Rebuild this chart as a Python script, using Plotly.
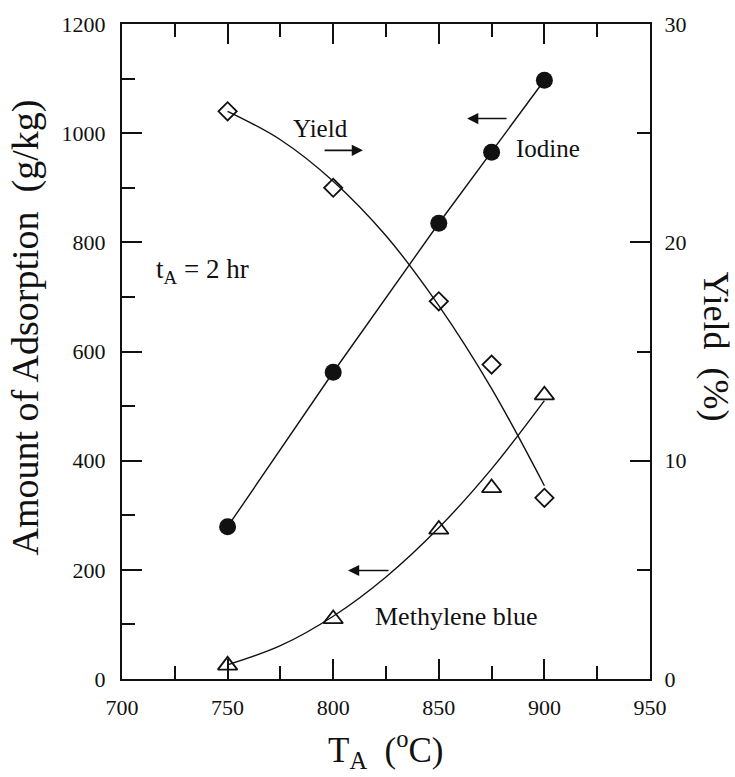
import plotly.graph_objects as go

# ---- data ----
T = [750, 800, 850, 875, 900]
iodine = [279, 562, 835, 965, 1097]
methylene_blue = [25, 110, 274, 350, 520]
yield_pct = [26.0, 22.5, 17.3, 14.4, 8.3]

# smooth fitted curves as drawn in the picture
T_fit = [750, 775, 800, 825, 850, 875, 900]
yield_fit = [26.0, 24.7, 22.8, 20.3, 17.1, 13.3, 8.85]
mb_fit = [26, 61, 115, 187, 277, 385, 510]

x_ticks = [700, 750, 800, 850, 900, 950]
y_ticks = [0, 200, 400, 600, 800, 1000, 1200]
y2_ticks = [0, 10, 20, 30]

FONT = "Liberation Serif"
BLACK = "#111111"

fig = go.Figure()

# Iodine
fig.add_trace(go.Scatter(
    x=T, y=iodine, mode="lines+markers",
    line=dict(color=BLACK, width=1.4),
    marker=dict(symbol="circle", size=17, color=BLACK),
    yaxis="y", showlegend=False))

# Methylene blue: fitted curve + open triangles
fig.add_trace(go.Scatter(
    x=T_fit, y=mb_fit, mode="lines", line=dict(color=BLACK, width=1.4, shape="spline"),
    yaxis="y", showlegend=False))
fig.add_trace(go.Scatter(
    x=T, y=methylene_blue, mode="markers",
    marker=dict(symbol="triangle-up-open", size=17, color=BLACK, line=dict(width=1.8)),
    yaxis="y", showlegend=False))

# Yield: fitted curve + open diamonds
fig.add_trace(go.Scatter(
    x=T_fit, y=yield_fit, mode="lines", line=dict(color=BLACK, width=1.4, shape="spline"),
    yaxis="y2", showlegend=False))
fig.add_trace(go.Scatter(
    x=T, y=yield_pct, mode="markers",
    marker=dict(symbol="diamond-open", size=14, color=BLACK, line=dict(width=1.8)),
    yaxis="y2", showlegend=False))

tickfont = dict(family=FONT, size=22, color=BLACK)

fig.update_layout(
    width=735, height=777,
    margin=dict(l=122, r=85, t=21, b=98),
    paper_bgcolor="white", plot_bgcolor="white",
    font=dict(family=FONT, color=BLACK),
    xaxis=dict(
        range=[700, 950], tickvals=x_ticks, ticks="inside", ticklen=20, tickwidth=2,
        tickcolor=BLACK, showline=True, linewidth=2, linecolor=BLACK, mirror="ticks",
        showgrid=False, zeroline=False, tickfont=tickfont, ticklabelstandoff=8,
        minor=dict(dtick=25, ticks="inside", ticklen=13, tickwidth=2, tickcolor=BLACK, showgrid=False),
    ),
    yaxis=dict(
        range=[0, 1200], tickvals=y_ticks, ticks="inside", ticklen=20, tickwidth=2,
        tickcolor=BLACK, showline=True, linewidth=2, linecolor=BLACK,
        showgrid=False, zeroline=False, tickfont=tickfont, ticklabelstandoff=10,
        minor=dict(dtick=100, ticks="inside", ticklen=13, tickwidth=2, tickcolor=BLACK, showgrid=False),
    ),
    yaxis2=dict(
        range=[0, 30], tickvals=y2_ticks, ticks="inside", ticklen=20, tickwidth=2,
        tickcolor=BLACK, showline=True, linewidth=2, linecolor=BLACK,
        overlaying="y", side="right", anchor="x",
        showgrid=False, zeroline=False, tickfont=tickfont, ticklabelstandoff=8,
        minor=dict(dtick=5, ticks="inside", ticklen=13, tickwidth=2, tickcolor=BLACK, showgrid=False),
    ),
)

ann = []
# axis titles
ann.append(dict(text="Amount of Adsorption  (g/kg)", xref="paper", yref="paper",
                x=-0.182, y=0.5365, xanchor="center", yanchor="middle", textangle=-90,
                showarrow=False, font=dict(family=FONT, size=38, color=BLACK)))
ann.append(dict(text="Yield  (%)", xref="paper", yref="paper",
                x=1.125, y=0.5076, xanchor="center", yanchor="middle", textangle=90,
                showarrow=False, font=dict(family=FONT, size=36, color=BLACK)))
ann.append(dict(text="T<sub>A</sub>  (<sup>o</sup>C)", xref="paper", yref="paper",
                x=0.5, y=-0.108, xanchor="center", yanchor="middle",
                showarrow=False, font=dict(family=FONT, size=35, color=BLACK)))

# in-plot labels
lbl = dict(family=FONT, size=25, color=BLACK)
ann.append(dict(text="Yield", x=794.2, y=1008, xref="x", yref="y", showarrow=False, font=lbl))
ann.append(dict(text="Iodine", x=901.7, y=972, xref="x", yref="y", showarrow=False, font=lbl))
ann.append(dict(text="Methylene blue", x=858.1, y=115, xref="x", yref="y", showarrow=False,
                font=dict(family=FONT, size=26, color=BLACK)))
ann.append(dict(text="t<sub>A</sub> = 2 hr", x=715.0, y=748, xref="x", yref="y",
                xanchor="left", showarrow=False, font=dict(family=FONT, size=27, color=BLACK)))

# arrows (head at x,y; tail at ax,ay)
for (hx, hy, tx, ty) in [(814.1, 968.5, 795.2, 968.5),
                         (863.4, 1026.8, 882.8, 1026.8),
                         (807.0, 198.8, 826.9, 198.8)]:
    ann.append(dict(text="", x=hx, y=hy, ax=tx, ay=ty, xref="x", yref="y",
                    axref="x", ayref="y", showarrow=True, arrowhead=2,
                    arrowsize=1.4, arrowwidth=1.6, arrowcolor=BLACK))

fig.update_layout(annotations=ann)

fig.write_html("out.html")
